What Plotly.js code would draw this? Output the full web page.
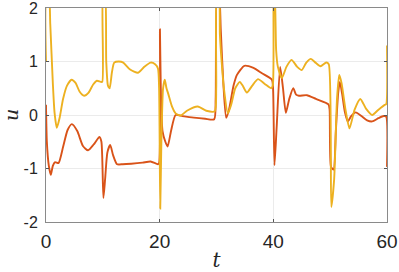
<!DOCTYPE html>
<html>
<head>
<meta charset="utf-8">
<script src="https://cdn.plot.ly/plotly-3.0.1.min.js"></script>
<style>html,body{margin:0;padding:0;background:#fff;}#chart{width:399px;height:272px;}</style>
</head>
<body>
<div id="chart"></div>
<script>
// Series 1 (red-orange)
const t1 = [0, 0.15, 0.5, 0.85, 1.2, 1.6, 2.2, 3.0, 3.8, 4.55, 5.5, 6.5, 7.4, 8.4, 9.4, 9.75, 10.1, 10.4, 10.8, 11.3, 11.8, 12.5, 13.5, 15, 17, 18.4, 19.7, 19.9, 20.05, 20.2, 20.5, 21.0, 21.4, 22.0, 22.8, 24, 26, 28, 29.6, 29.85, 30.1, 30.5, 30.75, 31.2, 31.7, 32.2, 33.0, 33.6, 34.9, 36.5, 38, 39.75, 39.95, 40.2, 40.6, 41.2, 41.7, 42.2, 42.8, 43.5, 44.0, 44.5, 45.9, 47.5, 49.7, 49.9, 50.15, 50.6, 51.0, 51.4, 51.7, 52.1, 52.6, 53.1, 53.7, 54.5, 55.5, 56.5, 57.4, 58.5, 59.4, 59.85, 60];
const u1 = [0.19, -0.5, -0.95, -1.12, -0.95, -0.88, -0.9, -0.6, -0.28, -0.17, -0.3, -0.58, -0.66, -0.55, -0.41, -0.5, -1.55, -1.2, -0.7, -0.56, -0.75, -0.92, -0.92, -0.91, -0.89, -0.87, -0.92, -0.9, 1.6, 0.5, -0.3, -0.5, -0.59, -0.3, 0.0, -0.02, -0.05, -0.07, -0.08, 0.3, 2.3, 2.2, 1.6, 0.6, -0.05, 0.1, 0.55, 0.75, 0.92, 0.88, 0.78, 0.66, 0.5, -0.94, -0.2, 0.9, 0.5, 0.04, 0.3, 0.5, 0.38, 0.36, 0.37, 0.3, 0.2, 0.1, -0.97, -1.02, -0.3, 0.4, 0.62, 0.4, 0.05, -0.12, -0.02, 0.05, -0.02, -0.1, -0.12, -0.06, -0.02, -0.03, -0.97];
// Series 2 (yellow)
const t2 = [0, 0.1, 0.5, 0.75, 1.2, 1.5, 1.9, 2.4, 3.0, 3.7, 4.5, 5.2, 5.9, 6.7, 7.5, 8.3, 8.95, 9.6, 9.9, 10.05, 10.35, 10.6, 10.9, 11.2, 11.6, 12.0, 12.8, 13.6, 14.8, 16.2, 17.3, 18.4, 19.2, 19.7, 19.9, 20.1, 20.3, 20.6, 20.9, 21.2, 21.5, 22.2, 22.8, 23.7, 24.8, 26.7, 28.2, 29.7, 29.95, 30.1, 30.4, 30.6, 30.9, 31.3, 32.0, 32.6, 33.3, 34.1, 34.6, 35.35, 36.3, 37.3, 38.5, 39.6, 39.9, 40.05, 40.3, 40.5, 40.8, 41.5, 42.3, 43.2, 44.2, 45.0, 45.8, 46.6, 47.5, 48.3, 49.3, 49.75, 50.2, 50.7, 51.2, 51.6, 52.0, 52.7, 53.4, 54.3, 55.3, 56.3, 57.4, 58.5, 59.6, 59.85, 60];
const u2 = [1.0, 2.2, 2.2, 1.7, 0.6, 0.05, -0.24, -0.05, 0.3, 0.55, 0.66, 0.6, 0.44, 0.36, 0.42, 0.57, 0.64, 0.62, 0.62, 2.3, 2.3, 1.0, 0.55, 0.5, 0.8, 0.98, 1.0, 0.98, 0.85, 0.79, 0.9, 0.98, 0.95, 0.87, 0.5, -1.75, -0.5, 0.5, 0.66, 0.5, 0.4, 0.15, 0.03, -0.01, 0.08, 0.16, 0.08, 0.07, 0.5, 2.3, 2.3, 1.5, 1.0, 0.5, 0.03, 0.2, 0.5, 0.62, 0.55, 0.42, 0.55, 0.67, 0.58, 0.5, 0.55, 2.3, 2.1, 1.2, 0.9, 0.69, 0.9, 1.03, 0.9, 0.84, 0.98, 1.05, 0.97, 0.91, 0.98, 0.95, -1.72, -1.2, 0.3, 0.75, 0.6, 0.1, -0.25, 0.1, 0.3, 0.12, 0.0, 0.1, 0.19, 0.2, 1.3];
const xTicks = [0, 20, 40, 60];
const yTicks = [-2, -1, 0, 1, 2];

const lineStyle = (c) => ({color: c, width: 1.9, shape: 'spline', smoothing: 0.6});
const data = [
  {x: t1, y: u1, type: 'scatter', mode: 'lines', line: lineStyle('#D95319')},
  {x: t2, y: u2, type: 'scatter', mode: 'lines', line: lineStyle('#EDB120')}
];
const axisCommon = {
  showline: true, linecolor: '#8a8a8a', linewidth: 1, mirror: 'ticks',
  ticks: 'inside', ticklen: 3, tickcolor: '#555', tickwidth: 1,
  showgrid: true, gridcolor: '#ebebeb', gridwidth: 1, zeroline: false,
  ticklabeloverflow: 'allow'
};
const layout = {
  width: 399, height: 272,
  margin: {l: 46, r: 12, t: 8, b: 50},
  paper_bgcolor: '#fff', plot_bgcolor: '#fff',
  showlegend: false,
  xaxis: Object.assign({}, axisCommon, {
    range: [0, 60], tickmode: 'array', tickvals: xTicks, ticktext: xTicks.map(String),
    tickfont: {family: 'Liberation Sans, Arial, sans-serif', size: 19, color: '#262626'},
    ticklabelstandoff: 2,
    title: {text: 't', font: {family: 'DejaVu Serif, serif', size: 20, color: '#262626', style: 'italic'}, standoff: 13}
  }),
  yaxis: Object.assign({}, axisCommon, {
    range: [-2, 2], tickmode: 'array', tickvals: yTicks, ticktext: yTicks.map(String),
    tickfont: {family: 'Liberation Sans, Arial, sans-serif', size: 16, color: '#262626'},
    ticklabelstandoff: 4,
    title: {text: 'u', font: {family: 'DejaVu Serif, serif', size: 19, color: '#262626', style: 'italic'}, standoff: 17}
  })
};
Plotly.newPlot('chart', data, layout, {staticPlot: true, displayModeBar: false});
</script>
</body>
</html>
